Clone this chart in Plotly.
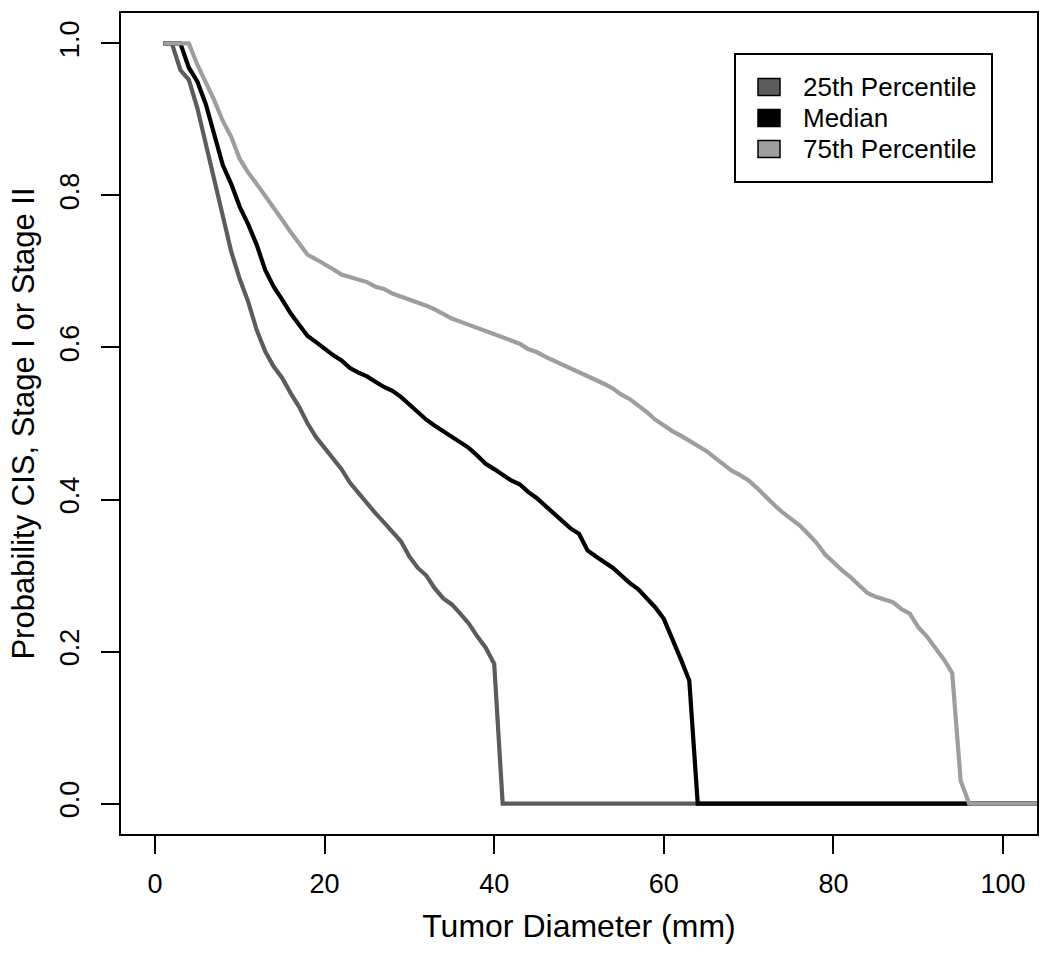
import plotly.graph_objects as go

# ---- data ----
x_p25 = [1, 2, 3, 4, 5, 6, 7, 8, 9, 10, 11, 12, 13, 14, 15, 16, 17, 18, 19, 20,
         21, 22, 23, 24, 25, 26, 27, 28, 29, 30, 31, 32, 33, 34, 35, 36, 37, 38,
         39, 40, 41, 104]
y_p25 = [1.0, 1.0, 0.965, 0.952, 0.915, 0.868, 0.82, 0.768, 0.726, 0.69, 0.66,
         0.623, 0.595, 0.575, 0.56, 0.54, 0.522, 0.50, 0.482, 0.468, 0.455, 0.44,
         0.422, 0.408, 0.395, 0.382, 0.37, 0.357, 0.345, 0.325, 0.31, 0.30, 0.283,
         0.27, 0.262, 0.25, 0.237, 0.22, 0.205, 0.184, 0.0, 0.0]

x_med = [1, 2, 3, 4, 5, 6, 7, 8, 9, 10, 11, 12, 13, 14, 15, 16, 17, 18, 19, 20,
         21, 22, 23, 24, 25, 26, 27, 28, 29, 30, 31, 32, 33, 34, 35, 36, 37, 38,
         39, 40, 41, 42, 43, 44, 45, 46, 47, 48, 49, 50, 51, 52, 53, 54, 55, 56,
         57, 58, 59, 60, 61, 62, 63, 64, 104]
y_med = [1.0, 1.0, 1.0, 0.968, 0.95, 0.92, 0.878, 0.84, 0.815, 0.785, 0.762,
         0.735, 0.702, 0.68, 0.663, 0.645, 0.63, 0.615, 0.607, 0.598, 0.59, 0.583,
         0.573, 0.567, 0.562, 0.555, 0.548, 0.543, 0.535, 0.525, 0.515, 0.505,
         0.497, 0.49, 0.482, 0.476, 0.468, 0.458, 0.447, 0.44, 0.433, 0.425, 0.42,
         0.41, 0.402, 0.392, 0.382, 0.372, 0.362, 0.355, 0.333, 0.325, 0.318,
         0.31, 0.30, 0.29, 0.282, 0.27, 0.258, 0.243, 0.218, 0.19, 0.162, 0.0, 0.0]

x_p75 = [1, 2, 3, 4, 5, 6, 7, 8, 9, 10, 11, 12, 13, 14, 15, 16, 17, 18, 19, 20,
         21, 22, 23, 24, 25, 26, 27, 28, 29, 30, 31, 32, 33, 34, 35, 36, 37, 38,
         39, 40, 41, 42, 43, 44, 45, 46, 47, 48, 49, 50, 51, 52, 53, 54, 55, 56,
         57, 58, 59, 60, 61, 62, 63, 64, 65, 66, 67, 68, 69, 70, 71, 72, 73, 74,
         75, 76, 77, 78, 79, 80, 81, 82, 83, 84, 85, 86, 87, 88, 89, 90, 91, 92,
         93, 94, 95, 96, 104]
y_p75 = [1.0, 1.0, 1.0, 1.0, 0.972, 0.95, 0.925, 0.898, 0.877, 0.848, 0.83,
         0.815, 0.80, 0.785, 0.768, 0.752, 0.737, 0.722, 0.716, 0.71, 0.703,
         0.696, 0.693, 0.69, 0.686, 0.68, 0.677, 0.671, 0.667, 0.663, 0.66, 0.655,
         0.65, 0.644, 0.638, 0.634, 0.63, 0.625, 0.621, 0.617, 0.613, 0.609,
         0.605, 0.598, 0.594, 0.588, 0.583, 0.578, 0.572, 0.567, 0.562, 0.557,
         0.552, 0.546, 0.538, 0.532, 0.524, 0.515, 0.505, 0.497, 0.49, 0.484,
         0.477, 0.47, 0.464, 0.455, 0.446, 0.438, 0.432, 0.425, 0.415, 0.403,
         0.393, 0.383, 0.375, 0.366, 0.355, 0.343, 0.328, 0.317, 0.307, 0.298,
         0.288, 0.277, 0.272, 0.268, 0.265, 0.256, 0.25, 0.232, 0.22, 0.205,
         0.19, 0.172, 0.03, 0.0, 0.0]

series_names = ["25th Percentile", "Median", "75th Percentile"]
series_colors = ["#5c5c5c", "#000000", "#9e9e9e"]

x_ticks = [0, 20, 40, 60, 80, 100]
y_ticks = [0.0, 0.2, 0.4, 0.6, 0.8, 1.0]
y_tick_text = ["0.0", "0.2", "0.4", "0.6", "0.8", "1.0"]

FONT = "Liberation Sans, Arial, sans-serif"
W, H = 1050, 953
ML, MR, MT, MB = 121, 13, 13, 119

fig = go.Figure()
for xs, ys, name, col in zip([x_p25, x_med, x_p75], [y_p25, y_med, y_p75],
                             series_names, series_colors):
    fig.add_trace(go.Scatter(x=xs, y=ys, mode="lines", name=name,
                             line=dict(color=col, width=4.2), showlegend=False))

# ---- manual R-style legend (paper coordinates from pixel positions) ----
pw, ph = W - ML - MR, H - MT - MB
def px(x):
    return (x - ML) / pw
def py(y):
    return (H - MB - y) / ph

shapes = [dict(type="rect", xref="paper", yref="paper",
               x0=px(735), x1=px(992), y0=py(182), y1=py(54),
               line=dict(color="black", width=2), fillcolor="white", layer="above")]
annotations = []
row_y = [87, 118, 149]
for name, col, ry in zip(series_names, series_colors, row_y):
    shapes.append(dict(type="rect", xref="paper", yref="paper",
                       x0=px(758), x1=px(780), y0=py(ry + 8.5), y1=py(ry - 8.5),
                       line=dict(color="black", width=1.5), fillcolor=col, layer="above"))
    annotations.append(dict(xref="paper", yref="paper", x=px(801), y=py(ry),
                            xanchor="left", yanchor="middle", showarrow=False,
                            text=name, font=dict(family=FONT, size=26, color="black")))

fig.update_layout(
    width=W, height=H,
    margin=dict(l=ML, r=MR, t=MT, b=MB),
    paper_bgcolor="white", plot_bgcolor="white",
    font=dict(family=FONT, size=26, color="black"),
    shapes=shapes, annotations=annotations,
    showlegend=False,
)
fig.update_xaxes(range=[-4, 104], tickvals=x_ticks, ticks="outside", ticklen=18,
                 tickwidth=2, tickcolor="black", showline=True, mirror=True,
                 linewidth=2, linecolor="black", showgrid=False, zeroline=False,
                 tickfont=dict(size=27), ticklabelstandoff=7,
                 title=dict(text="Tumor Diameter (mm)", font=dict(size=32), standoff=16))
fig.update_yaxes(range=[-0.04, 1.04], tickvals=y_ticks, ticktext=y_tick_text,
                 ticks="outside", ticklen=18, tickwidth=2, tickcolor="black",
                 tickangle=-90, showline=True, mirror=True, linewidth=2,
                 linecolor="black", showgrid=False, zeroline=False,
                 tickfont=dict(size=27), ticklabelstandoff=11,
                 title=dict(text="Probability CIS, Stage I or Stage II",
                            font=dict(size=31), standoff=11))

fig.write_html("out.html", config={"displayModeBar": False},
               post_script="document.body.style.margin='0';")
